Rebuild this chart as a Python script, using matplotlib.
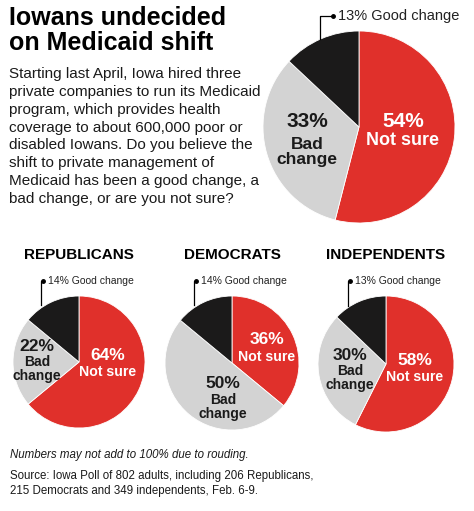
import matplotlib.pyplot as plt

W, H = 474, 511

# data
segments = ["Not sure", "Bad change", "Good change"]
colors = ["#e0302b", "#d3d3d3", "#1b1a1a"]
all_iowans = [54, 33, 13]
groups = ["REPUBLICANS", "DEMOCRATS", "INDEPENDENTS"]
group_values = [[64, 22, 14], [36, 50, 14], [58, 30, 13]]

title = "Iowans undecided\non Medicaid shift"
body = ("Starting last April, Iowa hired three\n"
        "private companies to run its Medicaid\n"
        "program, which provides health\n"
        "coverage to about 600,000 poor or\n"
        "disabled Iowans. Do you believe the\n"
        "shift to private management of\n"
        "Medicaid has been a good change, a\n"
        "bad change, or are you not sure?")
note = "Numbers may not add to 100% due to rouding."
source = ("Source: Iowa Poll of 802 adults, including 206 Republicans,\n"
          "215 Democrats and 349 independents, Feb. 6-9.")

fig = plt.figure(figsize=(W / 100, H / 100), dpi=100)
ax = fig.add_axes([0, 0, 1, 1])
ax.set_xlim(0, W)
ax.set_ylim(0, H)
ax.set_aspect("equal")
ax.axis("off")

SANS = "Liberation Sans"


def Y(py):
    return H - py


def draw_pie(vals, cx, cy, r):
    ax.pie(vals, colors=colors, startangle=90, counterclock=False,
           center=(cx, Y(cy)), radius=r, frame=True,
           wedgeprops=dict(edgecolor="white", linewidth=0.6))


def bracket(x0, y0, y1, x1, txt, fs):
    ax.plot([x0, x0, x1], [Y(y0), Y(y1), Y(y1)], color="black", lw=0.9)
    ax.plot([x1], [Y(y1)], "o", color="black", ms=2.5)
    ax.text(x1 + 5, Y(y1), txt, fontsize=fs, va="center", ha="left",
            family=SANS, color="#222222")


def lbl(x, y, s, fs, color):
    ax.text(x, Y(y), s, fontsize=fs, fontweight="bold", color=color,
            ha="center", va="center", family=SANS, linespacing=1.0)


# headline + intro
ax.text(9, Y(6), title, fontsize=18, fontweight="bold", va="top", ha="left",
        family=SANS, linespacing=1.05)
ax.text(9, Y(67), body, fontsize=11.0, va="top", ha="left",
        family=SANS, linespacing=1.35, color="#1a1a1a")

# main pie
draw_pie(all_iowans, 359, 127, 96)
bracket(320, 39, 16, 333, f"{all_iowans[2]}% Good change", 10.5)
lbl(307, 121, f"{all_iowans[1]}%", 15, "#1a1a1a")
lbl(307, 152, "Bad\nchange", 12.5, "#1a1a1a")
lbl(403, 121, f"{all_iowans[0]}%", 15, "white")
lbl(403, 140, "Not sure", 13, "white")

# party pies
centers = [(79, 362, 66), (232, 363, 67), (386, 364, 68)]
bad_pos = [(37, 346, 369), (223, 383, 407), (350, 355, 378)]
nots_pos = [(108, 355, 372), (267, 339, 357), (415, 360, 377)]
brk = [(41, 305, 43), (194, 305, 196), (348, 306, 350)]
for g, vals, (cx, cy, r), bp, npos, bk in zip(groups, group_values, centers,
                                               bad_pos, nots_pos, brk):
    ax.text(cx, Y(255), g, fontsize=11, fontweight="bold", ha="center",
            va="center", family=SANS)
    draw_pie(vals, cx, cy, r)
    bracket(bk[0], bk[1], 281, bk[2], f"{vals[2]}% Good change", 7.5)
    lbl(bp[0], bp[1], f"{vals[1]}%", 12.5, "#1a1a1a")
    lbl(bp[0], bp[2], "Bad\nchange", 10, "#1a1a1a")
    lbl(npos[0], npos[1], f"{vals[0]}%", 12.5, "white")
    lbl(npos[0], npos[2], "Not sure", 10.2, "white")

ax.set_xlim(0, W)
ax.set_ylim(0, H)

ax.text(10, Y(455), note, fontsize=8.3, style="italic", va="center", ha="left",
        family=SANS, color="#1a1a1a")
ax.text(10, Y(470), source, fontsize=8.3, va="top", ha="left",
        family=SANS, linespacing=1.3, color="#1a1a1a")

fig.savefig("out.png", dpi=100)
